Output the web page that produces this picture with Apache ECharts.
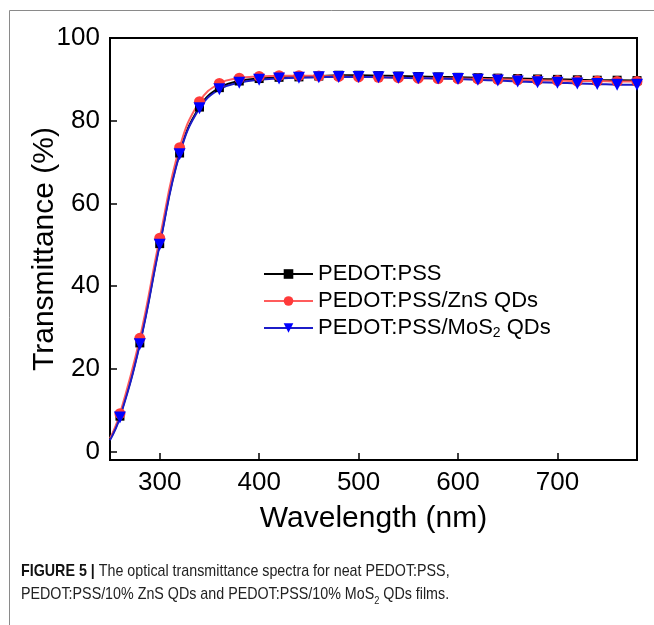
<!DOCTYPE html>
<html>
<head>
<meta charset="utf-8">
<script src="https://cdn.jsdelivr.net/npm/echarts@6/dist/echarts.min.js"></script>
<style>
  html, body {margin: 0; padding: 0; background: #fff;}
  #chart {width: 654px; height: 625px;}
</style>
</head>
<body>
<div id="chart"></div>
<script>
// wavelength (nm), first point is where the curve enters the frame (no marker)
const wavelength = [250, 260, 280, 300, 320, 340, 360, 380, 400, 420, 440, 460, 480, 500, 520,
    540, 560, 580, 600, 620, 640, 660, 680, 700, 720, 740, 760, 780];
const pedotPss = [3.0, 8.6, 26.3, 50.3, 72.2, 83.3, 88.0, 89.6, 90.2, 90.5, 90.6, 90.8, 91.0, 91.0, 90.9,
    90.8, 90.7, 90.6, 90.5, 90.4, 90.3, 90.2, 90.1, 90.0, 89.9, 89.8, 89.8, 89.7];
const pedotZnS = [3.2, 9.2, 27.4, 51.6, 73.5, 84.6, 89.0, 90.3, 90.7, 90.9, 90.9, 90.8, 90.7, 90.6, 90.5,
    90.4, 90.3, 90.2, 90.2, 90.1, 90.0, 89.9, 89.8, 89.7, 89.6, 89.6, 89.5, 89.5];
const pedotMoS2 = [2.8, 8.3, 26.0, 50.0, 71.9, 83.0, 87.6, 89.2, 89.9, 90.2, 90.4, 90.5, 90.6, 90.6, 90.5,
    90.4, 90.3, 90.2, 90.1, 89.9, 89.7, 89.5, 89.3, 89.2, 89.0, 88.9, 88.7, 88.7];
const seriesNames = ['PEDOT:PSS', 'PEDOT:PSS/ZnS QDs', 'PEDOT:PSS/MoS2 QDs'];

const chart = echarts.init(document.getElementById('chart'));
const font = "'Liberation Sans', Arial, sans-serif";

function toPoints(values) {
    return wavelength.map((w, i) => {
        let item = {value: [w, values[i]]};
        if (i === 0) item.symbol = 'none';
        return item;
    });
}

function lineSeries(name, values, lineColor, markColor, symbol, size) {
    return {
        name: name,
        type: 'line',
        data: toPoints(values),
        smooth: 0.45,
        symbol: symbol,
        symbolSize: size,
        lineStyle: {color: lineColor, width: 2},
        itemStyle: {color: markColor},
        emphasis: {disabled: true},
        z: 3
    };
}

const option = {
    animation: false,
    backgroundColor: '#fff',
    grid: {
        left: 110, top: 38, right: 17, bottom: 165,
        show: true, borderColor: '#000', borderWidth: 2
    },
    xAxis: {
        type: 'value',
        min: 250, max: 780,
        splitNumber: 5,
        name: 'Wavelength (nm)',
        nameLocation: 'middle',
        nameGap: 44,
        nameTextStyle: {fontFamily: font, fontSize: 30, color: '#000'},
        axisLine: {onZero: false, lineStyle: {color: '#000', width: 2}},
        axisTick: {inside: true, length: 7, lineStyle: {color: '#000', width: 1.5}},
        axisLabel: {
            fontFamily: font, fontSize: 26, color: '#000', margin: 10,
            formatter: v => (v % 100 === 0 ? String(v) : '')
        },
        splitLine: {show: false}
    },
    yAxis: {
        type: 'value',
        min: -2, max: 100,
        splitNumber: 5,
        name: 'Transmittance (%)',
        nameLocation: 'middle',
        nameRotate: 90,
        nameGap: 50,
        nameMoveOverlap: false,
        nameTextStyle: {fontFamily: font, fontSize: 30, color: '#000'},
        axisLine: {onZero: false, lineStyle: {color: '#000', width: 2}},
        axisTick: {inside: true, length: 7, lineStyle: {color: '#000', width: 1.5}},
        axisLabel: {
            fontFamily: font, fontSize: 26, color: '#000', margin: 10,
            formatter: v => (v % 20 === 0 && v >= 0 ? String(v) : '')
        },
        splitLine: {show: false}
    },
    legend: {
        orient: 'vertical',
        left: 263, top: 263,
        padding: 0,
        itemWidth: 49, itemHeight: 12,
        itemGap: 5,
        data: seriesNames,
        formatter: name => (name === 'PEDOT:PSS/MoS2 QDs' ? 'PEDOT:PSS/MoS{sub|2} QDs' : name),
        textStyle: {
            fontFamily: font, fontSize: 22, color: '#000',
            rich: {sub: {fontFamily: font, fontSize: 14, color: '#000', verticalAlign: 'bottom', padding: [10, 0, 0, 0]}}
        }
    },
    series: [
        lineSeries(seriesNames[0], pedotPss, '#000000', '#000000', 'rect', 9),
        lineSeries(seriesNames[1], pedotZnS, '#ff5c5c', '#ff3a3a', 'circle', 11),
        lineSeries(seriesNames[2], pedotMoS2, '#1c1cc8', '#0000ff', 'triangle', 12)
    ],
    graphic: [
        {
            type: 'polyline',
            shape: {points: [[9.5, 625], [9.5, 10.5], [654, 10.5]]},
            style: {stroke: '#8a8a8a', lineWidth: 1, fill: null},
            silent: true
        },
        {
            type: 'text',
            x: 21, y: 560,
            scaleX: 0.84,
            style: {
                text: '{b|FIGURE 5 |} The optical transmittance spectra for neat PEDOT:PSS,\nPEDOT:PSS/10% ZnS QDs and PEDOT:PSS/10% MoS{s|2} QDs films.',
                fontFamily: font, fontSize: 17, fill: '#222',
                lineHeight: 23,
                rich: {
                    b: {fontFamily: font, fontSize: 17, fontWeight: 'bold', fill: '#111', lineHeight: 23},
                    s: {fontFamily: font, fontSize: 11, fill: '#222', verticalAlign: 'bottom', lineHeight: 23, padding: [8, 0, 0, 0]}
                }
            },
            silent: true
        }
    ]
};

// downward triangles for the MoS2 series
option.series[2].symbolRotate = 180;

chart.setOption(option);
</script>
</body>
</html>
